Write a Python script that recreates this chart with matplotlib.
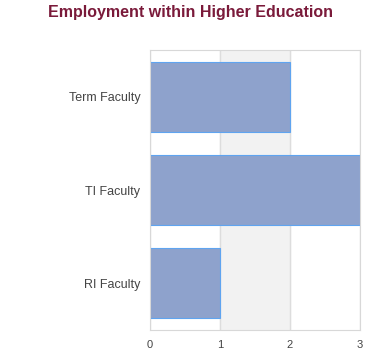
import numpy as np
import matplotlib
matplotlib.use('Agg')
import matplotlib.pyplot as plt

categories = ['RI Faculty', 'TI Faculty', 'Term Faculty']
values = [1, 3, 2]
xticks = [0, 1, 2, 3]

plt.rcParams['font.family'] = ['Liberation Sans', 'DejaVu Sans']

fig = plt.figure(figsize=(3.8, 3.6), dpi=100)
ax = fig.add_axes([150/380, 30/360, 210/380, 280/360])

y = np.arange(len(categories))
ax.axvspan(1, 2, color='#f2f2f2', zorder=0)
for t in xticks:
    ax.axvline(t, color='#dddddd', lw=1, zorder=1)
ax.barh(y, values, height=0.75, color='#8ea2cc', edgecolor='#5fa4f0', lw=0.8, zorder=2)

ax.set_xlim(0, 3)
ax.set_ylim(-0.5, 2.5)
ax.set_yticks(y)
ax.set_yticklabels(categories)
ax.set_xticks(xticks)
ax.tick_params(axis='y', length=0, labelsize=9, colors='#444444', pad=7)
ax.tick_params(axis='x', length=0, labelsize=8, colors='#444444', pad=7)
for s in ax.spines.values():
    s.set_color('#d8d8d8')

fig.text(0.5, 0.965, 'Employment within Higher Education', ha='center', va='center',
         fontsize=11.5, fontweight='bold', color='#7a1a3a')

fig.savefig('out.png', dpi=100)
